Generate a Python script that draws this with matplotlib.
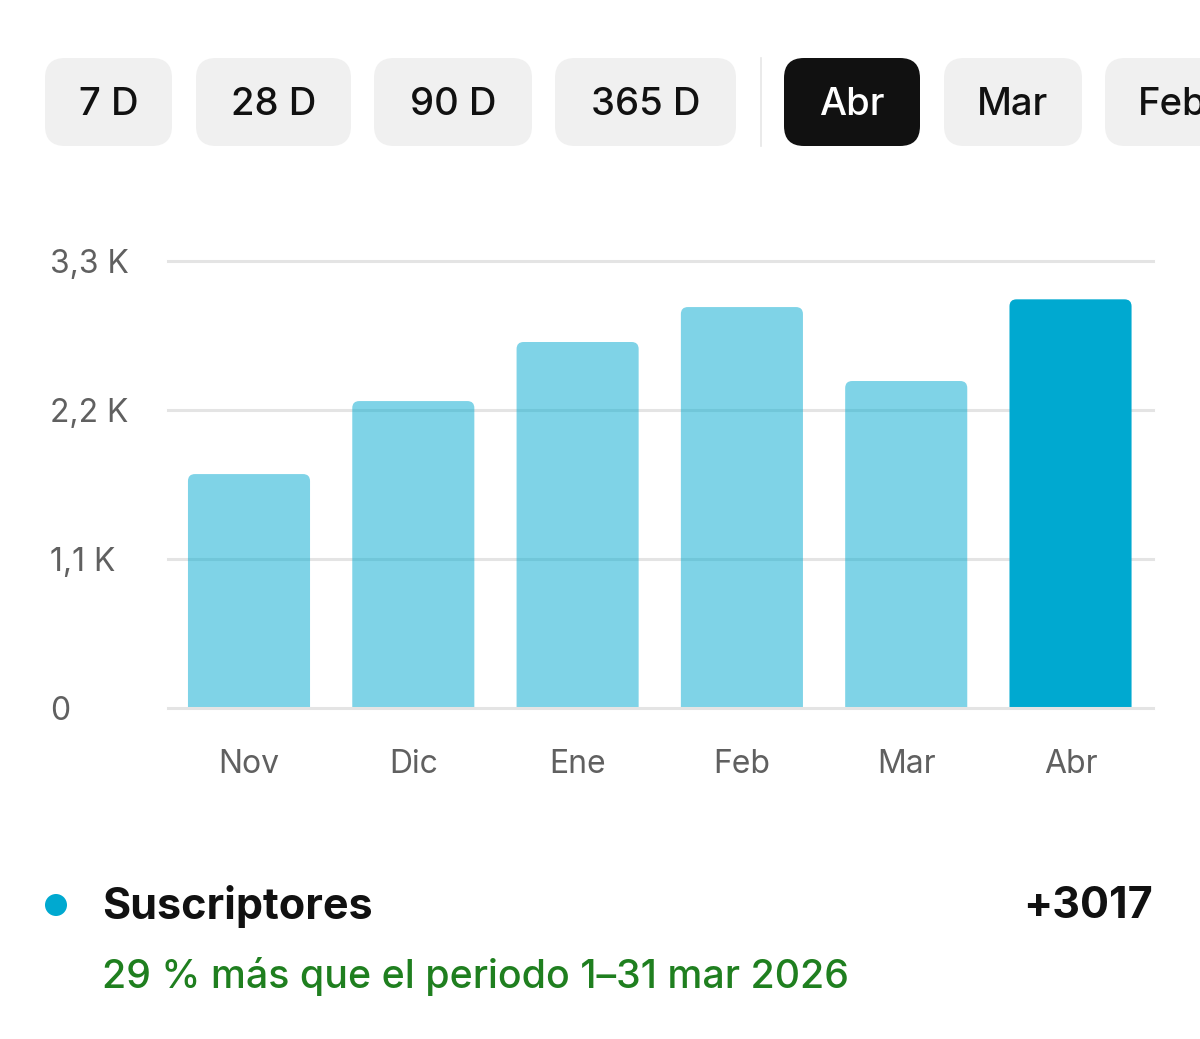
import matplotlib
matplotlib.use("Agg")
import matplotlib.pyplot as plt
from matplotlib.patches import FancyBboxPatch, Circle

# ---- data ----
months = ["Nov", "Dic", "Ene", "Feb", "Mar", "Abr"]
subscribers = [1727, 2266, 2702, 2960, 2414, 3017]
ytick_values = [0, 1100, 2200, 3300]
ytick_labels = ["0", "1,1 K", "2,2 K", "3,3 K"]
buttons = ["7 D", "28 D", "90 D", "365 D", "Abr", "Mar", "Feb"]
selected = "Abr"
legend_label = "Suscriptores"
legend_total = "+3017"
comparison = "29 % más que el periodo 1–31 mar 2026"

FONT = ["Inter", "DejaVu Sans"]
plt.rcParams["font.family"] = FONT

W, H = 1200, 1039
fig = plt.figure(figsize=(W / 100, H / 100), dpi=100)
fig.patch.set_facecolor("white")

# overlay axes in pixel coordinates for UI elements
ov = fig.add_axes([0, 0, 1, 1], zorder=0)
ov.set_xlim(0, W)
ov.set_ylim(H, 0)
ov.axis("off")

btn_x = [(45, 172), (196, 351), (374, 532), (555, 736), (784, 920), (944, 1082), (1105, 1240)]
for (x0, x1), lab in zip(btn_x, buttons):
    sel = lab == selected
    p = FancyBboxPatch((x0, 58), x1 - x0, 88,
                       boxstyle="round,pad=0,rounding_size=20",
                       facecolor="#111111" if sel else "#F0F0F0",
                       edgecolor="none", clip_on=False)
    ov.add_patch(p)
    ov.text((x0 + x1) / 2, 105, lab, ha="center", va="center",
            fontsize=27.5, fontweight="medium",
            color="white" if sel else "#111111", clip_on=True)
ov.plot([761, 761], [58, 146], color="#E6E6E6", lw=1.2)

# legend area
ov.add_patch(Circle((56, 905), 11, facecolor="#00A9D0", edgecolor="none"))
ov.text(102, 906, legend_label, ha="left", va="center", fontsize=31,
        fontweight="bold", color="#111111")
ov.text(1153, 906, legend_total, ha="right", va="center", fontsize=31,
        fontweight="bold", color="#111111")
ov.text(102, 977, comparison, ha="left", va="center", fontsize=28.3,
        fontweight="medium", color="#1F7F1F")

# ---- chart axes ----
left, right, top, bottom = 168, 1153, 261, 708
ax = fig.add_axes([left / W, 1 - bottom / H, (right - left) / W, (bottom - top) / H], zorder=1)
ax.set_facecolor("none")
xpad_l, xpad_r = 0.493, 0.502
ax.set_xlim(-xpad_l, len(months) - 1 + xpad_r)
ax.set_ylim(0, 3300)

units_per_px_x = (len(months) - 1 + xpad_l + xpad_r) / (right - left)
units_per_px_y = 3300 / (bottom - top)
bw = 0.743
r = 7 * units_per_px_x
for i, v in enumerate(subscribers):
    hl = months[i] == selected
    p = FancyBboxPatch((i - bw / 2, -200), bw, v + 200,
                       boxstyle=f"round,pad=0,rounding_size={r}",
                       mutation_aspect=units_per_px_y / units_per_px_x,
                       facecolor="#00A9D0", alpha=1.0 if hl else 0.5,
                       edgecolor="none", zorder=2)
    ax.add_patch(p)

for yv in ytick_values:
    ax.axhline(yv, color="#E4E4E4", lw=2.2, zorder=1 if yv else 3, clip_on=False)

for s in ax.spines.values():
    s.set_visible(False)
ax.set_yticks(ytick_values)
ax.set_yticklabels(ytick_labels)
ax.tick_params(axis="y", length=0, pad=118 * 0.72, labelsize=23, labelcolor="#606060")
for t in ax.get_yticklabels():
    t.set_ha("left")
ax.set_xticks(range(len(months)))
ax.set_xticklabels(months)
ax.tick_params(axis="x", length=0, pad=29.5, labelsize=23, labelcolor="#606060")

fig.savefig("out.png", dpi=100, facecolor="white")
